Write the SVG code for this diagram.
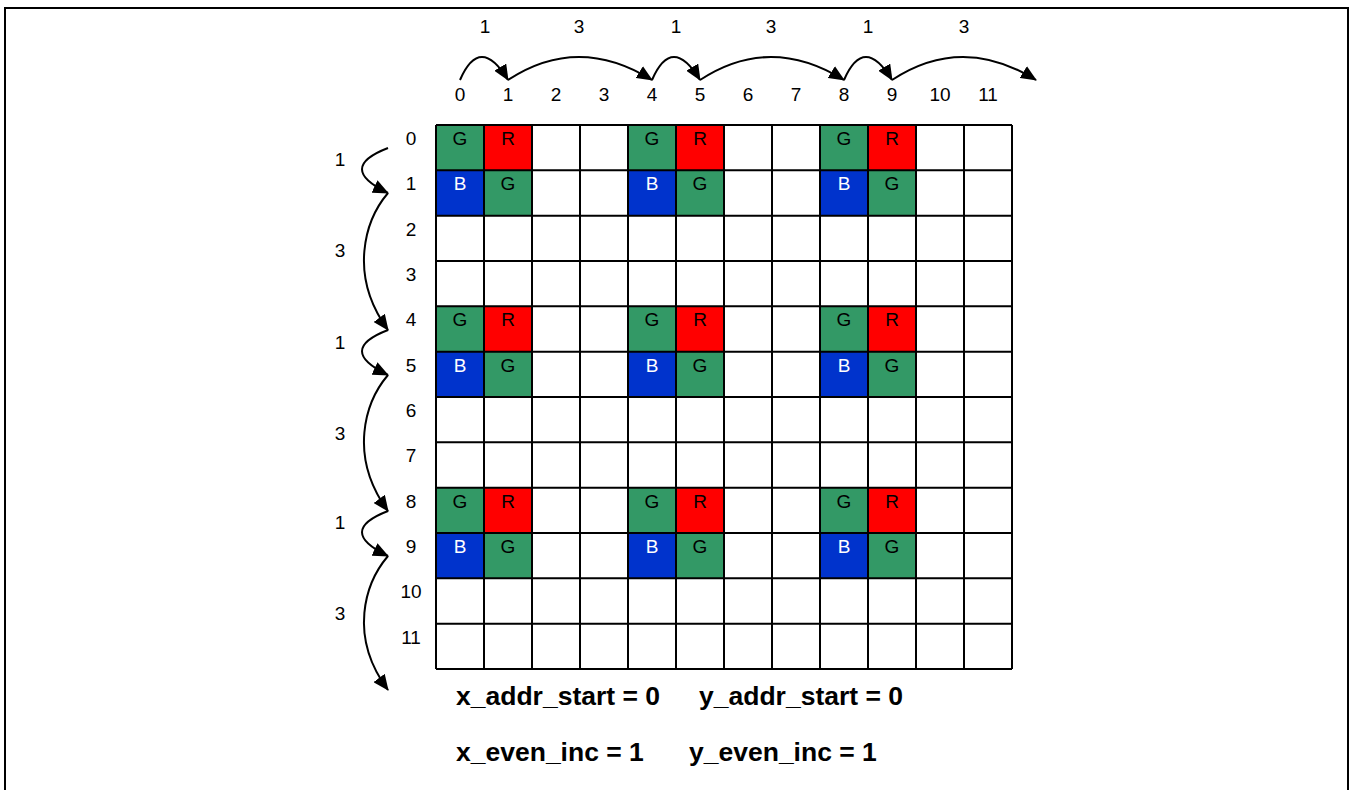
<svg xmlns="http://www.w3.org/2000/svg" width="1353" height="790" viewBox="0 0 1353 790">
<style>
  .lbl { font-family: "Liberation Sans", Arial, sans-serif; font-size: 19px; fill: #000; text-anchor: middle; }
  .w { fill: #fff; }
  .bold { font-family: "Liberation Sans", Arial, sans-serif; font-size: 26.5px; font-weight: bold; fill: #000; }
  .g { fill: #339966; }
  .r { fill: #FF0000; }
  .b { fill: #0033CC; }
  .grid { stroke: #000; stroke-width: 2; fill: none; }
  .arc { stroke: #000; stroke-width: 2; fill: none; marker-end: url(#ah); }
</style>
<defs>
  <marker id="ah" viewBox="0 0 16 14" refX="15" refY="7" markerWidth="16" markerHeight="14" markerUnits="userSpaceOnUse" orient="auto">
    <path d="M0,0 L16,7 L0,14 Z" fill="#000"/>
  </marker>
</defs>
<rect x="0" y="0" width="1353" height="790" fill="#fff"/>
<rect x="5" y="8" width="1343" height="800" fill="none" stroke="#000" stroke-width="2"/>

<!-- colored cells -->
<g id="cells">
  <g id="c0-0"><rect class="g" x="436" y="125" width="48" height="45.33"/><text class="lbl" x="460" y="145">G</text></g>
  <g id="c0-1"><rect class="r" x="484" y="125" width="48" height="45.33"/><text class="lbl" x="508" y="145">R</text></g>
  <g id="c1-0"><rect class="b" x="436" y="170.33" width="48" height="45.33"/><text class="lbl w" x="460" y="190.3">B</text></g>
  <g id="c1-1"><rect class="g" x="484" y="170.33" width="48" height="45.33"/><text class="lbl" x="508" y="190.3">G</text></g>
  <g id="c0-4"><rect class="g" x="628" y="125" width="48" height="45.33"/><text class="lbl" x="652" y="145">G</text></g>
  <g id="c0-5"><rect class="r" x="676" y="125" width="48" height="45.33"/><text class="lbl" x="700" y="145">R</text></g>
  <g id="c1-4"><rect class="b" x="628" y="170.33" width="48" height="45.33"/><text class="lbl w" x="652" y="190.3">B</text></g>
  <g id="c1-5"><rect class="g" x="676" y="170.33" width="48" height="45.33"/><text class="lbl" x="700" y="190.3">G</text></g>
  <g id="c0-8"><rect class="g" x="820" y="125" width="48" height="45.33"/><text class="lbl" x="844" y="145">G</text></g>
  <g id="c0-9"><rect class="r" x="868" y="125" width="48" height="45.33"/><text class="lbl" x="892" y="145">R</text></g>
  <g id="c1-8"><rect class="b" x="820" y="170.33" width="48" height="45.33"/><text class="lbl w" x="844" y="190.3">B</text></g>
  <g id="c1-9"><rect class="g" x="868" y="170.33" width="48" height="45.33"/><text class="lbl" x="892" y="190.3">G</text></g>

  <g id="c4-0"><rect class="g" x="436" y="306.33" width="48" height="45.33"/><text class="lbl" x="460" y="326.3">G</text></g>
  <g id="c4-1"><rect class="r" x="484" y="306.33" width="48" height="45.33"/><text class="lbl" x="508" y="326.3">R</text></g>
  <g id="c5-0"><rect class="b" x="436" y="351.67" width="48" height="45.33"/><text class="lbl w" x="460" y="371.7">B</text></g>
  <g id="c5-1"><rect class="g" x="484" y="351.67" width="48" height="45.33"/><text class="lbl" x="508" y="371.7">G</text></g>
  <g id="c4-4"><rect class="g" x="628" y="306.33" width="48" height="45.33"/><text class="lbl" x="652" y="326.3">G</text></g>
  <g id="c4-5"><rect class="r" x="676" y="306.33" width="48" height="45.33"/><text class="lbl" x="700" y="326.3">R</text></g>
  <g id="c5-4"><rect class="b" x="628" y="351.67" width="48" height="45.33"/><text class="lbl w" x="652" y="371.7">B</text></g>
  <g id="c5-5"><rect class="g" x="676" y="351.67" width="48" height="45.33"/><text class="lbl" x="700" y="371.7">G</text></g>
  <g id="c4-8"><rect class="g" x="820" y="306.33" width="48" height="45.33"/><text class="lbl" x="844" y="326.3">G</text></g>
  <g id="c4-9"><rect class="r" x="868" y="306.33" width="48" height="45.33"/><text class="lbl" x="892" y="326.3">R</text></g>
  <g id="c5-8"><rect class="b" x="820" y="351.67" width="48" height="45.33"/><text class="lbl w" x="844" y="371.7">B</text></g>
  <g id="c5-9"><rect class="g" x="868" y="351.67" width="48" height="45.33"/><text class="lbl" x="892" y="371.7">G</text></g>

  <g id="c8-0"><rect class="g" x="436" y="487.67" width="48" height="45.33"/><text class="lbl" x="460" y="507.7">G</text></g>
  <g id="c8-1"><rect class="r" x="484" y="487.67" width="48" height="45.33"/><text class="lbl" x="508" y="507.7">R</text></g>
  <g id="c9-0"><rect class="b" x="436" y="533" width="48" height="45.33"/><text class="lbl w" x="460" y="553">B</text></g>
  <g id="c9-1"><rect class="g" x="484" y="533" width="48" height="45.33"/><text class="lbl" x="508" y="553">G</text></g>
  <g id="c8-4"><rect class="g" x="628" y="487.67" width="48" height="45.33"/><text class="lbl" x="652" y="507.7">G</text></g>
  <g id="c8-5"><rect class="r" x="676" y="487.67" width="48" height="45.33"/><text class="lbl" x="700" y="507.7">R</text></g>
  <g id="c9-4"><rect class="b" x="628" y="533" width="48" height="45.33"/><text class="lbl w" x="652" y="553">B</text></g>
  <g id="c9-5"><rect class="g" x="676" y="533" width="48" height="45.33"/><text class="lbl" x="700" y="553">G</text></g>
  <g id="c8-8"><rect class="g" x="820" y="487.67" width="48" height="45.33"/><text class="lbl" x="844" y="507.7">G</text></g>
  <g id="c8-9"><rect class="r" x="868" y="487.67" width="48" height="45.33"/><text class="lbl" x="892" y="507.7">R</text></g>
  <g id="c9-8"><rect class="b" x="820" y="533" width="48" height="45.33"/><text class="lbl w" x="844" y="553">B</text></g>
  <g id="c9-9"><rect class="g" x="868" y="533" width="48" height="45.33"/><text class="lbl" x="892" y="553">G</text></g>
</g>

<!-- grid lines -->
<g id="grid" class="grid">
  <path d="M436,125V669M484,125V669M532,125V669M580,125V669M628,125V669M676,125V669M724,125V669M772,125V669M820,125V669M868,125V669M916,125V669M964,125V669M1012,125V669"/>
  <path d="M436,125H1012M436,170.33H1012M436,215.67H1012M436,261H1012M436,306.33H1012M436,351.67H1012M436,397H1012M436,442.33H1012M436,487.67H1012M436,533H1012M436,578.33H1012M436,623.67H1012M436,669H1012"/>
</g>

<!-- column labels -->
<g id="col-labels" class="lbl">
  <text x="460" y="101">0</text><text x="508" y="101">1</text><text x="556" y="101">2</text><text x="604" y="101">3</text>
  <text x="652" y="101">4</text><text x="700" y="101">5</text><text x="748" y="101">6</text><text x="796" y="101">7</text>
  <text x="844" y="101">8</text><text x="892" y="101">9</text><text x="940" y="101">10</text><text x="988" y="101">11</text>
</g>

<!-- row labels -->
<g id="row-labels" class="lbl">
  <text x="411" y="145">0</text><text x="411" y="190.3">1</text><text x="411" y="235.7">2</text><text x="411" y="281">3</text>
  <text x="411" y="326.3">4</text><text x="411" y="371.7">5</text><text x="411" y="417">6</text><text x="411" y="462.3">7</text>
  <text x="411" y="507.7">8</text><text x="411" y="553">9</text><text x="411" y="598.3">10</text><text x="411" y="643.7">11</text>
</g>

<!-- step labels -->
<g id="step-labels" class="lbl">
  <text x="485" y="33">1</text><text x="579" y="33">3</text><text x="676" y="33">1</text>
  <text x="771" y="33">3</text><text x="868" y="33">1</text><text x="964" y="33">3</text>
  <text x="340" y="166">1</text><text x="340" y="257">3</text><text x="340" y="349">1</text>
  <text x="340" y="440">3</text><text x="340" y="529">1</text><text x="340" y="620">3</text>
</g>

<!-- connectors -->
<g id="connectors">
  <path class="arc" d="M460,80 Q480,34 508,80"/>
  <path class="arc" d="M508,80 Q578,34 652,80"/>
  <path class="arc" d="M652,80 Q672,34 700,80"/>
  <path class="arc" d="M700,80 Q770,34 844,80"/>
  <path class="arc" d="M844,80 Q864,34 892,80"/>
  <path class="arc" d="M892,80 Q962,34 1036,80"/>

  <path class="arc" d="M388,148 Q336,168 388,193"/>
  <path class="arc" d="M388,193 C365,220 348,275 388,330"/>
  <path class="arc" d="M388,330 Q336,350 388,375"/>
  <path class="arc" d="M388,375 C365,402 348,456 388,511"/>
  <path class="arc" d="M388,511 Q336,531 388,556"/>
  <path class="arc" d="M388,556 C365,583 348,636 388,690"/>
</g>

<!-- parameter text -->
<g id="params" class="bold">
  <text x="456" y="705">x_addr_start = 0</text>
  <text x="699" y="705">y_addr_start = 0</text>
  <text x="456" y="761">x_even_inc = 1</text>
  <text x="689" y="761">y_even_inc = 1</text>
</g>
</svg>
